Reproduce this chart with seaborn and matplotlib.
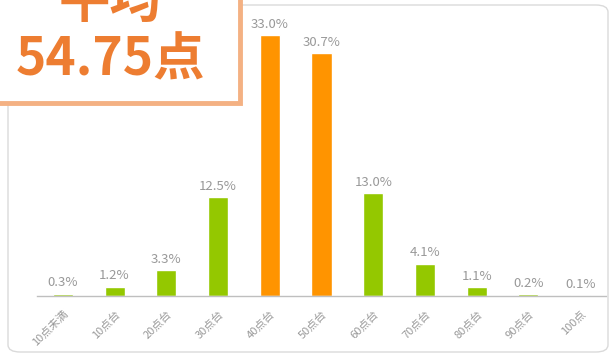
import matplotlib
matplotlib.use("Agg")
import matplotlib.pyplot as plt
import seaborn as sns
import pandas as pd
from matplotlib.patches import FancyBboxPatch, Rectangle

categories = ["10点未満", "10点台", "20点台", "30点台", "40点台", "50点台",
              "60点台", "70点台", "80点台", "90点台", "100点"]
values = [0.3, 1.2, 3.3, 12.5, 33.0, 30.7, 13.0, 4.1, 1.1, 0.2, 0.1]
value_labels = ["0.3%", "1.2%", "3.3%", "12.5%", "33.0%", "30.7%",
                "13.0%", "4.1%", "1.1%", "0.2%", "0.1%"]
highlight = ["40点台", "50点台"]
avg_title = "平均"
avg_value = "54.75点"

GREEN = "#94C800"
ORANGE = "#FF9400"
palette = [ORANGE if c in highlight else GREEN for c in categories]

sns.set_theme(style="white")
plt.rcParams["font.family"] = ["Noto Sans CJK JP", "DejaVu Sans"]

W, H = 611, 355
fig = plt.figure(figsize=(W / 100, H / 100), dpi=100)
fig.patch.set_facecolor("white")

# outer rounded frame
frame = FancyBboxPatch((8 / W, 3 / H), 600 / W, 347 / H,
                       boxstyle="round,pad=0,rounding_size=0.02",
                       transform=fig.transFigure, fill=False,
                       edgecolor="#DADADA", linewidth=1.0, zorder=0)
fig.patches.append(frame)

ax = fig.add_axes([37 / W, 59 / H, 569 / W, 291 / H])
df = pd.DataFrame({"cat": categories, "val": values})
sns.barplot(data=df, x="cat", y="val", hue="cat", palette=palette,
            legend=False, width=0.39, ax=ax, saturation=1)
ax.set_ylim(0, 36.8)
ax.set_xlim(-0.5, 10.5)
ax.set_xlabel("")
ax.set_ylabel("")
ax.set_yticks([])
for s in ["top", "right", "left"]:
    ax.spines[s].set_visible(False)
ax.spines["bottom"].set_color("#BFBFBF")
ax.spines["bottom"].set_linewidth(1.0)
ax.patch.set_alpha(0)

for cont in ax.containers:
    idx = [int(round(b.get_x() + b.get_width() / 2)) for b in cont]
    ax.bar_label(cont, labels=[value_labels[i] for i in idx], padding=3,
                 fontsize=9.5, color="#999999")

ax.set_xticks(range(len(categories)))
ax.set_xticklabels(categories, rotation=45, ha="right", rotation_mode="anchor",
                   fontsize=8, color="#999999")
ax.tick_params(axis="x", length=0, pad=9)

# average box
box = Rectangle((-6 / W, (H - 103) / H), 246 / W, 110 / H,
                transform=fig.transFigure, facecolor="white",
                edgecolor="#F4B183", linewidth=3.5, zorder=5)
fig.patches.append(box)
fig.text(110 / W, 1 - 1 / H, avg_title, ha="center", va="center",
         fontsize=37, fontweight="bold", color="#ED7D31", zorder=6)
fig.text(110 / W, 1 - 60 / H, avg_value, ha="center", va="center",
         fontsize=37, fontweight="bold", color="#ED7D31", zorder=6)

fig.savefig("out.png", dpi=100, facecolor="white")
